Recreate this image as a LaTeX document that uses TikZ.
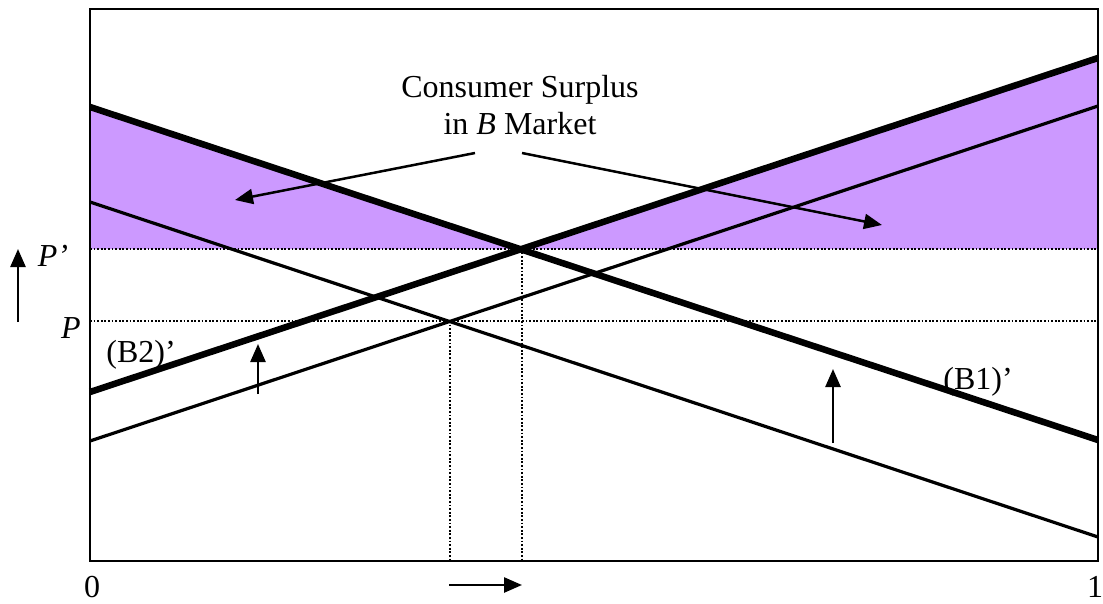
\documentclass[tikz,border=0pt]{standalone}
\usepackage{fontspec}
\setmainfont{Liberation Serif}
\usetikzlibrary{arrows.meta, positioning}
\definecolor{surplus}{RGB}{204,153,255}
\tikzset{
  thin line/.style={line width=3.2pt},
  thick line/.style={line width=6.5pt},
  guide/.style={line width=1.5pt, dash pattern=on 1.8pt off 1.8pt},
  push/.style={-{Triangle[length=18pt,width=15pt]}, line width=2.5pt},
  lbl/.style={font=\fontsize{32}{37}\selectfont, inner sep=0pt, align=center},
}

\begin{document}
\begin{tikzpicture}[x=1pt, y=-1pt]
        \useasboundingbox (0,0) rectangle (1103,604);

        % box corners
        \coordinate (ll) at (90,561);
        \coordinate (ur) at (1098,9);
        % the four lines
        \coordinate (b1a) at (90,107);  \coordinate (b1b) at (1098,440);
        \coordinate (d1a) at (90,202);  \coordinate (d1b) at (1098,537);
        \coordinate (b2a) at (90,392);  \coordinate (b2b) at (1098,58);
        \coordinate (d2a) at (90,441);  \coordinate (d2b) at (1098,106);
        % equilibria and price levels
        \coordinate (eq1) at (522,249);
        \coordinate (eq0) at (450,321);
        \coordinate (pp0) at (90,249);  \coordinate (pp1) at (1098,249);
        \coordinate (p0) at (90,321);   \coordinate (p1) at (1098,321);

        % surplus areas
        \fill[surplus] (b1a) -- (eq1) -- (pp0) -- cycle;
        \fill[surplus] (eq1) -- (b2b) -- (pp1) -- cycle;

        \draw[guide] (pp0) -- (pp1);
        \draw[guide] (p0) -- (p1);
        \draw[guide] (eq1) -- (eq1 |- ll);
        \draw[guide] (eq0) -- (eq0 |- ll);

        \draw[thin line] (d1a) -- (d1b);
        \draw[thin line] (d2a) -- (d2b);
        \draw[thick line] (b1a) -- (b1b);
        \draw[thick line] (b2a) -- (b2b);

        \draw[line width=2pt] (ll) rectangle (ur);

        % labels
        \node[lbl] (cs) at (520,105) {Consumer Surplus\\in \textit{B} Market};
        \node[lbl] (ppl) at (53,256) {\textit{P’}};
        \node[lbl] (pl) at (71,328) {\textit{P}};
        \node[lbl] (b2) at (141,355) {(B2)’};
        \node[lbl] (b1) at (978,382) {(B1)’};
        \node[lbl] (zero) at (92,587) {0};
        \node[lbl] (one) at (1095,587) {1};

        % arrows
        \coordinate (csl) at (475,153);  \coordinate (csla) at (235,200);
        \coordinate (csr) at (522,153);  \coordinate (csra) at (882,225);
        \coordinate (up0) at (18,322);   \coordinate (up0a) at (18,249);
        \coordinate (up1) at (258,394);  \coordinate (up1a) at (258,344);
        \coordinate (up2) at (833,443);  \coordinate (up2a) at (833,369);
        \coordinate (rt0) at (449,585);  \coordinate (rt0a) at (522,585);

        \path[push]
        (csl) edge (csla)
        (csr) edge (csra)
        (up0) edge (up0a)
        (up1) edge (up1a)
        (up2) edge (up2a)
        (rt0) edge (rt0a);
\end{tikzpicture}
\end{document}
